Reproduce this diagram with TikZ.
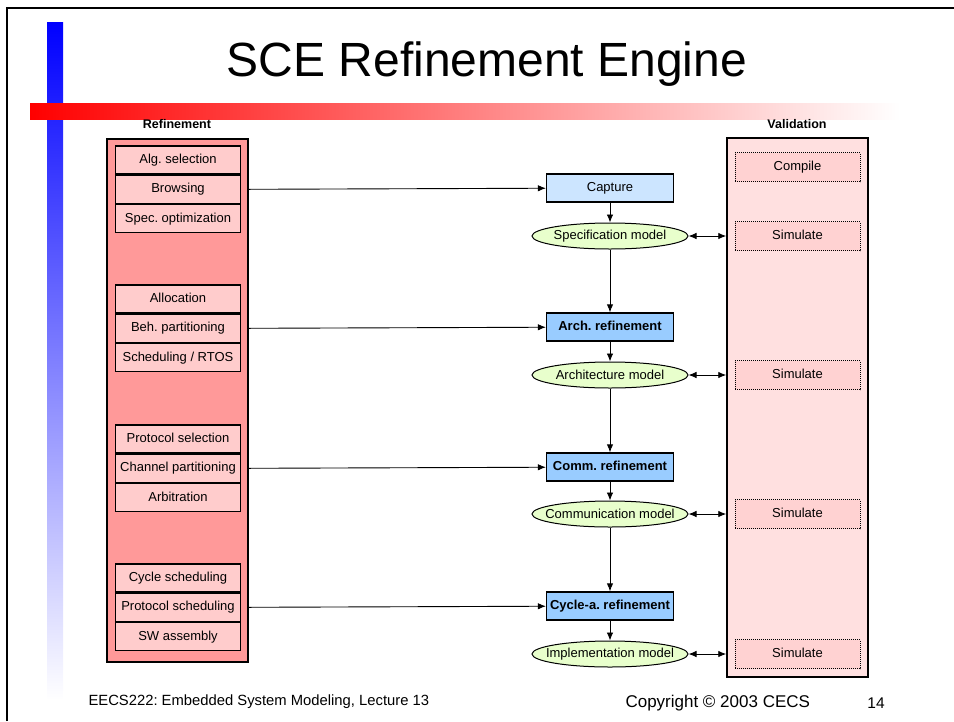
\documentclass[tikz,border=0pt]{standalone}
\usepackage{fontspec}
\setmainfont{Liberation Sans}
\usepackage{tikz}
\usetikzlibrary{positioning,calc,arrows.meta,shapes.geometric}
\frenchspacing

\definecolor{refdark}{HTML}{FF9999}
\definecolor{reflight}{HTML}{FFCCCC}
\definecolor{valback}{HTML}{FFE0E0}
\definecolor{valbox}{HTML}{FFD2D2}
\definecolor{capblue}{HTML}{CCE5FF}
\definecolor{stepblue}{HTML}{99CCFF}
\definecolor{modelgreen}{HTML}{E8FFCC}

\newcommand{\boxfont}{\fontsize{13}{15}\selectfont}

\tikzset{
  refitem/.style={draw, line width=1.3pt, fill=reflight, minimum width=125pt, minimum height=28pt, inner sep=0pt, text height=9.5pt, text depth=2.5pt, font=\boxfont},
  stepbox/.style={draw, line width=1.3pt, fill=stepblue, minimum width=127pt, minimum height=28pt, inner sep=0pt, text height=9.5pt, text depth=2.5pt, font=\boxfont\bfseries},
  modelnode/.style={draw, ellipse, line width=1pt, fill=modelgreen, minimum width=156pt, minimum height=26pt, inner xsep=-12pt, inner ysep=0pt, font=\boxfont},
  valitem/.style={draw, densely dotted, line width=1pt, fill=valbox, minimum width=125pt, minimum height=29pt, inner sep=0pt, text height=9.5pt, text depth=2.5pt, font=\boxfont},
  arr/.style={-{Latex[length=8pt,width=6.5pt]}, line width=0.9pt},
  dblarr/.style={{Latex[length=8pt,width=6.5pt]}-{Latex[length=8pt,width=6.5pt]}, line width=0.9pt}
}

\begin{document}
\begin{tikzpicture}[x=1pt, y=-1pt]
	\useasboundingbox (0,0) rectangle (954,721);

	% slide decoration
	\shade[top color=blue, bottom color=white] (47,22) rectangle (63,700);
	\shade[left color=red, right color=white] (30,103) rectangle (900,119);
	\draw[line width=2pt] (7,721) -- (7,8) -- (954,8);

	\node[font=\fontsize{48}{54}\selectfont] (title) at (487,64) {SCE Refinement Engine};

	% panels
	\node[draw, line width=1.5pt, fill=refdark, minimum width=141pt, minimum height=523pt] (refpanel) at (177.5,400.5) {};
	\node[draw, line width=1.5pt, fill=valback, minimum width=141pt, minimum height=539pt] (valpanel) at (797.5,407.5) {};
	\node[font=\fontsize{12.5}{14}\selectfont\bfseries] (reflabel) at (177,124) {Refinement};
	\node[font=\fontsize{12.5}{14}\selectfont\bfseries] (vallabel) at (797,124) {Validation};

	% refinement tasks
	\begin{scope}[every node/.style={refitem}]
	    \node (alg) at (178,160) {Alg. selection};
	    \node[below = 0pt of alg] (browse) {Browsing};
	    \node[below = 0pt of browse] (specopt) {Spec. optimization};

	    \node (alloc) at (178,299) {Allocation};
	    \node[below = 0pt of alloc] (behpart) {Beh. partitioning};
	    \node[below = 0pt of behpart] (sched) {Scheduling / RTOS};

	    \node (protsel) at (178,439) {Protocol selection};
	    \node[below = 0pt of protsel] (chanpart) {Channel partitioning};
	    \node[below = 0pt of chanpart] (arbit) {Arbitration};

	    \node (cycsched) at (178,578) {Cycle scheduling};
	    \node[below = 0pt of cycsched] (protsched) {Protocol scheduling};
	    \node[below = 0pt of protsched] (swasm) {SW assembly};
	\end{scope}

	% refinement flow
	\node[stepbox, fill=capblue, font=\boxfont] (capture) at (610,188) {Capture};
	\node[modelnode] (specmodel) at (610,236) {Specification model};
	\node[stepbox] (archref) at (610,327) {Arch. refinement};
	\node[modelnode] (archmodel) at (610,375) {Architecture model};
	\node[stepbox] (commref) at (610,467) {Comm. refinement};
	\node[modelnode] (commmodel) at (610,514) {Communication model};
	\node[stepbox] (cycref) at (610,606) {Cycle-a. refinement};
	\node[modelnode] (implmodel) at (610,654) {Implementation model};

	% validation tasks
	\begin{scope}[every node/.style={valitem}]
	    \node (compile) at (797.5,167) {Compile};
	    \node (simspec) at (797.5,236) {Simulate};
	    \node (simarch) at (797.5,375) {Simulate};
	    \node (simcomm) at (797.5,514) {Simulate};
	    \node (simimpl) at (797.5,654) {Simulate};
	\end{scope}

	\draw [arr] (browse -| refpanel.east) -- (capture);
	\draw [arr] (behpart -| refpanel.east) -- (archref);
	\draw [arr] (chanpart -| refpanel.east) -- (commref);
	\draw [arr] (protsched -| refpanel.east) -- (cycref);

	\draw [arr] (capture) -- (specmodel);
	\draw [arr] (specmodel) -- (archref);
	\draw [arr] (archref) -- (archmodel);
	\draw [arr] (archmodel) -- (commref);
	\draw [arr] (commref) -- (commmodel);
	\draw [arr] (commmodel) -- (cycref);
	\draw [arr] (cycref) -- (implmodel);

	\draw [dblarr] (specmodel) -- (specmodel -| valpanel.west);
	\draw [dblarr] (archmodel) -- (archmodel -| valpanel.west);
	\draw [dblarr] (commmodel) -- (commmodel -| valpanel.west);
	\draw [dblarr] (implmodel) -- (implmodel -| valpanel.west);

	% footer
	\node[anchor=west, font=\fontsize{14.8}{17}\selectfont] (course) at (85,702) {EECS222: Embedded System Modeling, Lecture 13};
	\node[anchor=west, font=\fontsize{17}{19}\selectfont] (copy) at (622,703) {Copyright © 2003 CECS};
	\node[font=\fontsize{15.5}{17}\selectfont] (page) at (876,703) {14};
\end{tikzpicture}
\end{document}
